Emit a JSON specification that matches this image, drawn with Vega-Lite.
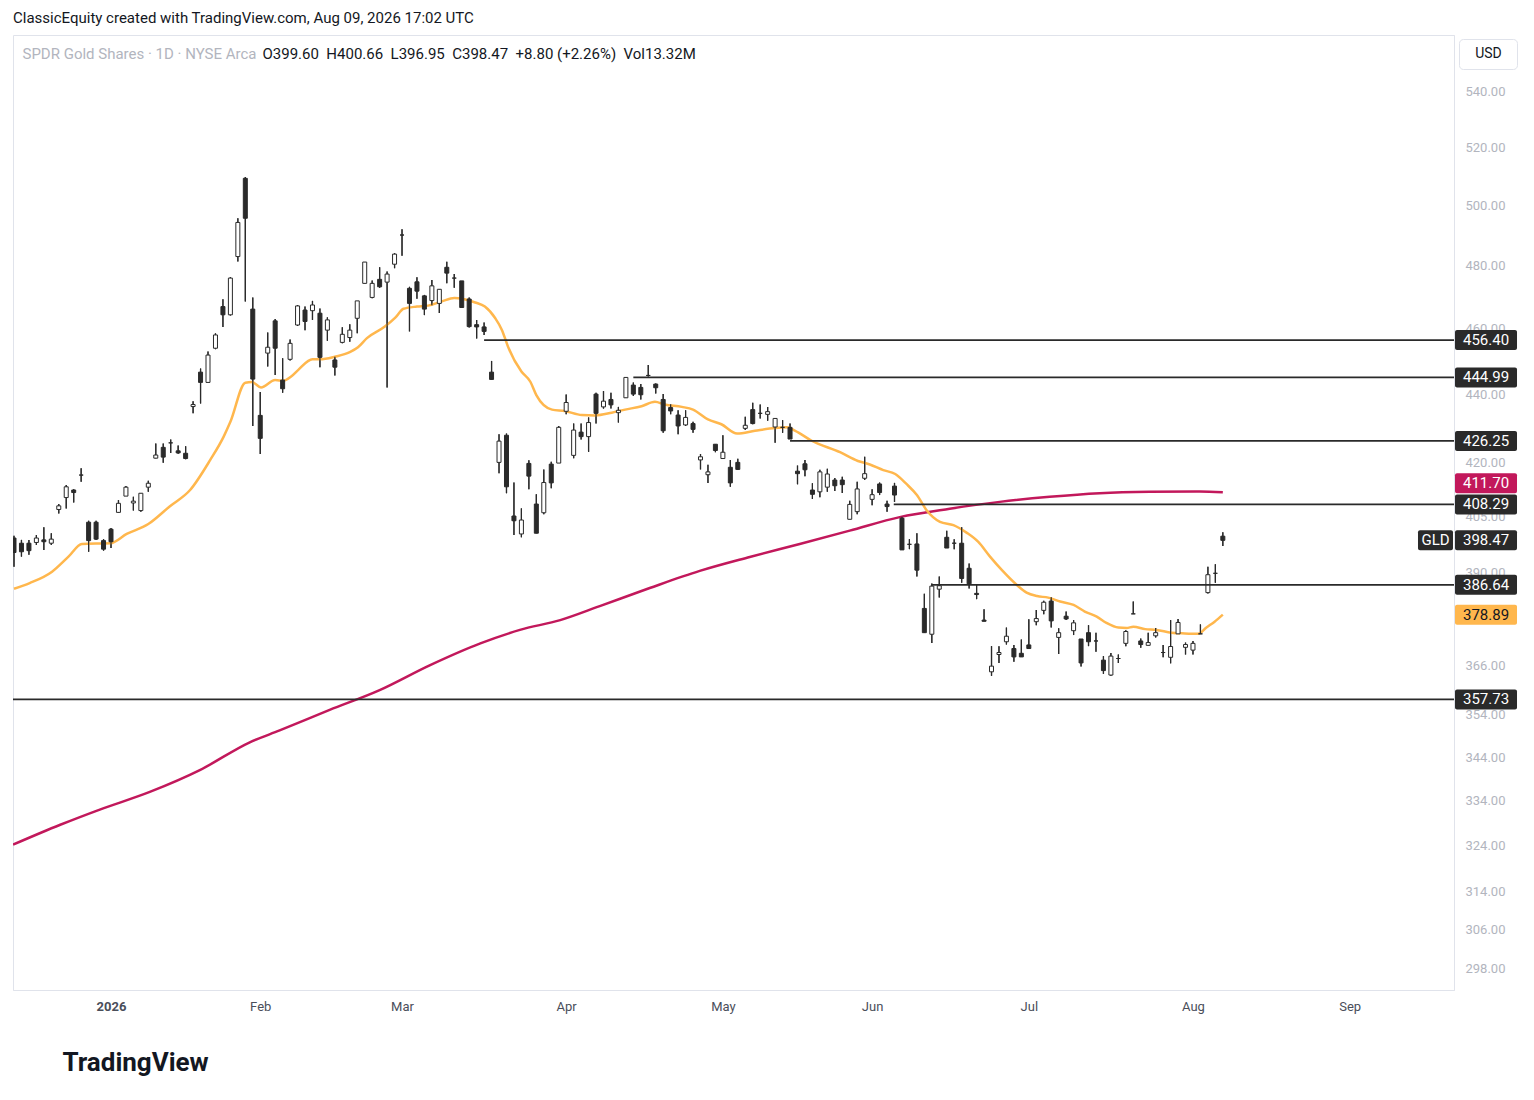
{
  "$schema": "https://vega.github.io/schema/vega-lite/v6.json",
  "width": 1441,
  "height": 955,
  "autosize": "none",
  "padding": {"left": 13, "top": 35, "right": 80, "bottom": 110},
  "background": "#ffffff",
  "title": {
    "text": "ClassicEquity created with TradingView.com, Aug 09, 2026 17:02 UTC",
    "anchor": "start",
    "frame": "group",
    "font": "Roboto",
    "fontSize": 15,
    "fontWeight": "normal",
    "color": "#131722",
    "offset": 9
  },
  "datasets": {
    "candles": [
      {"i":0,"o":399.1,"h":399.7,"l":391.4,"c":395.2},
      {"i":1,"o":397.7,"h":398.6,"l":394.1,"c":395.4},
      {"i":2,"o":397.7,"h":398.6,"l":394.6,"c":395.7},
      {"i":3,"o":397.9,"h":399.9,"l":397.2,"c":399.1},
      {"i":4,"o":398.6,"h":402.0,"l":395.9,"c":398.1},
      {"i":5,"o":397.7,"h":400.4,"l":397.2,"c":398.8},
      {"i":6,"o":406.9,"h":408.4,"l":405.8,"c":407.9},
      {"i":7,"o":410.2,"h":413.7,"l":407.2,"c":413.2},
      {"i":8,"o":412.3,"h":412.5,"l":408.8,"c":411.6},
      {"i":9,"o":416.5,"h":418.4,"l":414.6,"c":416.5},
      {"i":10,"o":403.4,"h":403.8,"l":395.4,"c":398.4},
      {"i":11,"o":403.4,"h":403.8,"l":398.6,"c":398.8},
      {"i":12,"o":398.4,"h":398.8,"l":395.7,"c":396.1},
      {"i":13,"o":401.5,"h":401.8,"l":396.4,"c":398.1},
      {"i":14,"o":406.1,"h":409.5,"l":406.1,"c":408.6},
      {"i":15,"o":410.6,"h":413.4,"l":410.6,"c":413.1},
      {"i":16,"o":408.7,"h":410.4,"l":406.6,"c":409.2},
      {"i":17,"o":406.6,"h":411.4,"l":406.3,"c":411.4},
      {"i":18,"o":413.1,"h":414.9,"l":411.8,"c":414.2},
      {"i":19,"o":421.3,"h":425.5,"l":421.3,"c":422.2},
      {"i":20,"o":424.4,"h":425.5,"l":420.0,"c":421.6},
      {"i":21,"o":425.7,"h":426.7,"l":422.8,"c":425.7},
      {"i":22,"o":423.4,"h":424.9,"l":422.6,"c":422.8},
      {"i":23,"o":422.7,"h":424.7,"l":421.0,"c":421.2},
      {"i":24,"o":436.3,"h":437.9,"l":434.3,"c":436.9},
      {"i":25,"o":446.6,"h":447.7,"l":437.2,"c":443.5},
      {"i":26,"o":443.5,"h":452.9,"l":443.5,"c":451.8},
      {"i":27,"o":453.9,"h":458.5,"l":453.6,"c":458.0},
      {"i":28,"o":466.9,"h":469.2,"l":460.5,"c":464.3},
      {"i":29,"o":464.3,"h":476.3,"l":464.1,"c":476.0},
      {"i":30,"o":483.0,"h":495.7,"l":481.4,"c":494.3},
      {"i":31,"o":509.3,"h":509.8,"l":468.5,"c":495.7},
      {"i":32,"o":466.1,"h":469.8,"l":430.6,"c":444.5},
      {"i":33,"o":433.7,"h":440.6,"l":422.5,"c":427.0},
      {"i":34,"o":452.4,"h":458.8,"l":448.3,"c":454.2},
      {"i":35,"o":462.4,"h":463.0,"l":445.7,"c":453.9},
      {"i":36,"o":444.2,"h":450.8,"l":440.4,"c":441.6},
      {"i":37,"o":450.5,"h":456.6,"l":450.1,"c":455.4},
      {"i":38,"o":461.1,"h":467.4,"l":460.8,"c":467.1},
      {"i":39,"o":465.8,"h":466.9,"l":459.5,"c":462.2},
      {"i":40,"o":465.6,"h":468.7,"l":462.7,"c":467.4},
      {"i":41,"o":464.8,"h":466.3,"l":448.1,"c":451.1},
      {"i":42,"o":459.5,"h":463.5,"l":456.2,"c":462.7},
      {"i":43,"o":450.3,"h":451.3,"l":445.6,"c":448.1},
      {"i":44,"o":455.7,"h":460.4,"l":455.4,"c":458.2},
      {"i":45,"o":457.2,"h":461.3,"l":455.9,"c":459.5},
      {"i":46,"o":463.2,"h":468.7,"l":458.5,"c":468.7},
      {"i":47,"o":474.3,"h":481.2,"l":474.3,"c":481.2},
      {"i":48,"o":469.8,"h":475.2,"l":469.5,"c":474.3},
      {"i":49,"o":475.6,"h":479.5,"l":472.9,"c":473.2},
      {"i":50,"o":474.7,"h":478.1,"l":442.0,"c":477.3},
      {"i":51,"o":480.5,"h":484.1,"l":479.2,"c":483.8},
      {"i":52,"o":490.1,"h":492.0,"l":483.3,"c":490.1},
      {"i":53,"o":472.7,"h":473.2,"l":459.1,"c":467.9},
      {"i":54,"o":474.8,"h":476.3,"l":469.4,"c":471.8},
      {"i":55,"o":470.3,"h":470.6,"l":464.2,"c":466.1},
      {"i":56,"o":468.8,"h":475.4,"l":467.3,"c":473.5},
      {"i":57,"o":467.9,"h":472.4,"l":464.9,"c":472.4},
      {"i":58,"o":479.5,"h":481.3,"l":474.3,"c":477.6},
      {"i":59,"o":476.0,"h":477.3,"l":472.9,"c":476.0},
      {"i":60,"o":475.1,"h":475.1,"l":466.6,"c":466.6},
      {"i":61,"o":469.3,"h":469.8,"l":460.3,"c":460.6},
      {"i":62,"o":461.2,"h":462.7,"l":456.9,"c":460.5},
      {"i":63,"o":460.5,"h":461.9,"l":458.0,"c":459.1},
      {"i":64,"o":446.6,"h":450.0,"l":444.4,"c":444.4},
      {"i":65,"o":420.1,"h":428.2,"l":417.0,"c":426.2},
      {"i":66,"o":427.9,"h":428.4,"l":411.4,"c":413.2},
      {"i":67,"o":405.1,"h":414.4,"l":399.9,"c":403.8},
      {"i":68,"o":400.2,"h":407.2,"l":399.3,"c":404.0},
      {"i":69,"o":419.8,"h":420.7,"l":412.5,"c":416.2},
      {"i":70,"o":408.4,"h":411.1,"l":400.4,"c":400.4},
      {"i":71,"o":406.0,"h":418.1,"l":405.6,"c":414.4},
      {"i":72,"o":419.6,"h":420.3,"l":412.8,"c":414.3},
      {"i":73,"o":419.9,"h":430.6,"l":419.9,"c":430.2},
      {"i":74,"o":434.9,"h":439.9,"l":434.0,"c":437.5},
      {"i":75,"o":422.1,"h":431.3,"l":421.3,"c":429.4},
      {"i":76,"o":428.8,"h":431.3,"l":426.7,"c":427.5},
      {"i":77,"o":427.5,"h":433.1,"l":423.1,"c":431.6},
      {"i":78,"o":440.0,"h":440.4,"l":431.3,"c":434.3},
      {"i":79,"o":436.2,"h":440.9,"l":435.7,"c":437.9},
      {"i":80,"o":438.4,"h":440.4,"l":435.7,"c":436.8},
      {"i":81,"o":434.5,"h":436.2,"l":431.6,"c":435.2},
      {"i":82,"o":438.9,"h":445.0,"l":438.9,"c":445.0},
      {"i":83,"o":442.7,"h":443.5,"l":439.4,"c":440.0},
      {"i":84,"o":442.0,"h":443.0,"l":438.4,"c":439.8},
      {"i":85,"o":445.6,"h":448.8,"l":445.3,"c":445.6},
      {"i":86,"o":443.0,"h":443.2,"l":440.2,"c":441.9},
      {"i":87,"o":438.4,"h":440.0,"l":428.6,"c":429.2},
      {"i":88,"o":436.0,"h":437.0,"l":434.0,"c":435.0},
      {"i":89,"o":433.8,"h":435.2,"l":428.2,"c":430.6},
      {"i":90,"o":430.9,"h":435.2,"l":430.6,"c":433.1},
      {"i":91,"o":431.3,"h":431.8,"l":428.6,"c":429.6},
      {"i":92,"o":420.8,"h":422.5,"l":418.1,"c":421.7},
      {"i":93,"o":416.6,"h":419.4,"l":414.3,"c":417.4},
      {"i":94,"o":425.3,"h":425.3,"l":423.0,"c":423.5},
      {"i":95,"o":421.2,"h":427.9,"l":421.2,"c":423.0},
      {"i":96,"o":418.7,"h":420.8,"l":413.2,"c":414.3},
      {"i":97,"o":420.1,"h":421.1,"l":417.9,"c":418.1},
      {"i":98,"o":429.9,"h":433.3,"l":429.4,"c":430.8},
      {"i":99,"o":435.4,"h":437.4,"l":431.1,"c":431.3},
      {"i":100,"o":434.3,"h":436.9,"l":432.8,"c":434.3},
      {"i":101,"o":434.0,"h":436.2,"l":432.1,"c":434.8},
      {"i":102,"o":430.3,"h":432.8,"l":425.7,"c":432.8},
      {"i":103,"o":430.2,"h":432.3,"l":428.6,"c":430.2},
      {"i":104,"o":430.2,"h":431.3,"l":426.8,"c":426.8},
      {"i":105,"o":417.6,"h":419.2,"l":413.9,"c":416.9},
      {"i":106,"o":419.7,"h":420.8,"l":416.2,"c":418.0},
      {"i":107,"o":412.3,"h":414.2,"l":409.8,"c":411.1},
      {"i":108,"o":411.8,"h":418.0,"l":410.3,"c":417.4},
      {"i":109,"o":413.1,"h":418.3,"l":411.8,"c":416.8},
      {"i":110,"o":415.1,"h":415.7,"l":412.0,"c":413.5},
      {"i":111,"o":415.1,"h":416.0,"l":411.5,"c":413.8},
      {"i":112,"o":404.2,"h":409.3,"l":404.2,"c":408.3},
      {"i":113,"o":406.3,"h":414.6,"l":405.6,"c":412.6},
      {"i":114,"o":415.6,"h":421.7,"l":415.1,"c":416.9},
      {"i":115,"o":409.7,"h":412.5,"l":408.1,"c":411.0},
      {"i":116,"o":414.0,"h":414.4,"l":410.9,"c":411.6},
      {"i":117,"o":408.4,"h":409.3,"l":406.3,"c":407.7},
      {"i":118,"o":413.4,"h":414.3,"l":409.0,"c":410.9},
      {"i":119,"o":404.5,"h":404.9,"l":395.9,"c":395.9},
      {"i":120,"o":397.4,"h":398.8,"l":396.1,"c":397.4},
      {"i":121,"o":397.5,"h":400.4,"l":388.8,"c":390.5},
      {"i":122,"o":380.5,"h":384.3,"l":374.3,"c":374.3},
      {"i":123,"o":373.9,"h":387.0,"l":371.7,"c":386.3},
      {"i":124,"o":385.5,"h":388.8,"l":383.3,"c":386.4},
      {"i":125,"o":399.3,"h":401.1,"l":396.4,"c":396.4},
      {"i":126,"o":397.7,"h":398.8,"l":396.1,"c":397.7},
      {"i":127,"o":397.7,"h":402.0,"l":387.2,"c":388.3},
      {"i":128,"o":391.0,"h":392.3,"l":385.7,"c":386.9},
      {"i":129,"o":384.4,"h":386.6,"l":382.9,"c":384.1},
      {"i":130,"o":377.5,"h":380.3,"l":377.2,"c":377.2},
      {"i":131,"o":364.5,"h":370.9,"l":363.5,"c":365.9},
      {"i":132,"o":368.8,"h":370.9,"l":366.7,"c":369.3},
      {"i":133,"o":372.0,"h":375.6,"l":371.3,"c":373.4},
      {"i":134,"o":370.3,"h":371.2,"l":367.0,"c":368.2},
      {"i":135,"o":369.1,"h":372.6,"l":368.2,"c":368.2},
      {"i":136,"o":371.2,"h":377.7,"l":370.3,"c":370.3},
      {"i":137,"o":377.1,"h":380.1,"l":376.2,"c":377.9},
      {"i":138,"o":380.0,"h":382.5,"l":379.0,"c":382.1},
      {"i":139,"o":382.4,"h":383.4,"l":375.6,"c":377.3},
      {"i":140,"o":373.1,"h":375.4,"l":368.9,"c":374.3},
      {"i":141,"o":378.5,"h":379.7,"l":377.5,"c":377.8},
      {"i":142,"o":374.8,"h":377.5,"l":373.7,"c":376.8},
      {"i":143,"o":372.7,"h":372.7,"l":365.8,"c":366.7},
      {"i":144,"o":374.3,"h":376.2,"l":370.9,"c":372.0},
      {"i":145,"o":372.2,"h":374.3,"l":369.5,"c":372.2},
      {"i":146,"o":367.4,"h":368.4,"l":364.0,"c":364.8},
      {"i":147,"o":363.7,"h":369.2,"l":363.5,"c":368.4},
      {"i":148,"o":367.8,"h":368.8,"l":366.7,"c":367.8},
      {"i":149,"o":371.6,"h":374.9,"l":370.9,"c":374.6},
      {"i":150,"o":379.1,"h":382.3,"l":379.1,"c":379.1},
      {"i":151,"o":372.2,"h":372.8,"l":370.5,"c":371.3},
      {"i":152,"o":371.1,"h":374.3,"l":371.1,"c":371.8},
      {"i":153,"o":373.5,"h":375.5,"l":373.1,"c":374.3},
      {"i":154,"o":369.3,"h":371.2,"l":368.1,"c":369.3},
      {"i":155,"o":368.1,"h":377.5,"l":366.6,"c":370.8},
      {"i":156,"o":374.0,"h":377.8,"l":374.0,"c":376.9},
      {"i":157,"o":370.6,"h":371.8,"l":368.8,"c":371.3},
      {"i":158,"o":369.9,"h":372.2,"l":368.8,"c":371.6},
      {"i":159,"o":374.0,"h":376.4,"l":374.0,"c":374.0},
      {"i":160,"o":384.6,"h":391.4,"l":384.4,"c":389.3},
      {"i":161,"o":389.67,"h":392.1,"l":387.2,"c":389.67},
      {"i":162,"o":399.6,"h":400.66,"l":396.95,"c":398.47}
    ],
    "sma20": [
      {"i":0,"v":385.6},{"i":2.1,"v":387.1},{"i":5.1,"v":390.1},{"i":7.3,"v":394.1},
      {"i":9.1,"v":397.5},{"i":12.9,"v":397.7},{"i":15.1,"v":400.2},{"i":18,"v":402.9},
      {"i":20.9,"v":407.8},{"i":23.6,"v":412.3},{"i":26.3,"v":420.8},{"i":28.1,"v":427.5},
      {"i":29,"v":431.8},{"i":31,"v":443.4},{"i":31.9,"v":443.6},{"i":33.1,"v":442.0},
      {"i":35,"v":444.2},{"i":36.1,"v":444.0},{"i":37.1,"v":445.2},{"i":38.1,"v":447.3},
      {"i":40,"v":450.5},{"i":41,"v":450.5},{"i":43,"v":451.3},{"i":45,"v":452.7},
      {"i":46.1,"v":454.2},{"i":47.3,"v":457.0},{"i":49.7,"v":460.6},{"i":51.1,"v":463.4},
      {"i":52.2,"v":466.2},{"i":54,"v":466.9},{"i":55.5,"v":467.2},{"i":57.3,"v":468.5},
      {"i":59,"v":469.6},{"i":60.2,"v":469.3},{"i":61.8,"v":468.2},{"i":63.1,"v":466.9},
      {"i":64.5,"v":463.2},{"i":65.4,"v":459.5},{"i":66.2,"v":454.4},{"i":68,"v":446.8},
      {"i":69.2,"v":443.7},{"i":70,"v":439.7},{"i":72.1,"v":435.4},{"i":73.8,"v":435.0},
      {"i":76.1,"v":433.8},{"i":77.9,"v":433.7},{"i":80.1,"v":434.5},{"i":81.9,"v":435.4},
      {"i":84.1,"v":436.4},{"i":85.9,"v":437.7},{"i":87.2,"v":436.9},{"i":89.5,"v":436.2},
      {"i":91,"v":435.4},{"i":93,"v":432.5},{"i":94.8,"v":431.1},{"i":96.9,"v":428.4},
      {"i":99.3,"v":429.2},{"i":102,"v":430.0},{"i":103.6,"v":430.2},{"i":104.7,"v":429.2},
      {"i":106.9,"v":426.3},{"i":110.7,"v":423.0},{"i":113.1,"v":420.5},{"i":114.7,"v":419.5},
      {"i":116.5,"v":417.9},{"i":118.1,"v":416.8},{"i":119.6,"v":414.0},{"i":121,"v":410.9},
      {"i":122.3,"v":406.7},{"i":124.1,"v":403.5},{"i":125.9,"v":402.6},{"i":127.7,"v":400.5},
      {"i":129.2,"v":398.1},{"i":130.8,"v":394.1},{"i":132.4,"v":390.5},{"i":134.4,"v":386.6},
      {"i":135.7,"v":384.6},{"i":137.1,"v":383.7},{"i":138.6,"v":383.3},{"i":140.2,"v":382.3},
      {"i":142,"v":381.4},{"i":143.5,"v":379.7},{"i":145.1,"v":378.4},{"i":146.4,"v":376.8},
      {"i":148,"v":375.6},{"i":149.1,"v":375.5},{"i":150,"v":375.8},{"i":151.6,"v":375.2},
      {"i":153.1,"v":375.0},{"i":155.1,"v":374.3},{"i":156.9,"v":374.1},{"i":158.7,"v":374.0},
      {"i":159.8,"v":375.6},{"i":160.9,"v":377.1},{"i":162,"v":378.89}
    ],
    "sma200": [
      {"i":-0.13,"v":324.2},{"i":6.2,"v":328.6},{"i":11.5,"v":332.0},{"i":18.2,"v":336.0},
      {"i":24.9,"v":341.0},{"i":31.6,"v":347.5},{"i":35.6,"v":350.3},{"i":42.3,"v":355.2},
      {"i":49,"v":360.0},{"i":55.7,"v":366.1},{"i":62.5,"v":371.6},{"i":67.8,"v":375.0},
      {"i":73.2,"v":377.5},{"i":78.5,"v":381.1},{"i":85.2,"v":385.8},{"i":91.9,"v":390.3},
      {"i":98.6,"v":394.0},{"i":105.3,"v":397.5},{"i":112,"v":401.1},{"i":118.7,"v":404.8},
      {"i":125.4,"v":407.1},{"i":132.1,"v":409.0},{"i":138.8,"v":410.4},{"i":145.5,"v":411.4},
      {"i":152.2,"v":411.8},{"i":158.9,"v":411.9},{"i":162,"v":411.7}
    ],
    "levels": [
      {"p":456.40,"from":63.0},
      {"p":444.99,"from":83.0},
      {"p":426.25,"from":104.0},
      {"p":408.29,"from":117.9},
      {"p":386.64,"from":123.0},
      {"p":357.73,"from":-0.134}
    ],
    "tags": [
      {"p":456.40,"label":"456.40","kind":"level"},
      {"p":444.99,"label":"444.99","kind":"level"},
      {"p":426.25,"label":"426.25","kind":"level"},
      {"p":411.70,"label":"411.70","kind":"sma200"},
      {"p":408.29,"label":"408.29","kind":"level"},
      {"p":398.47,"label":"398.47","kind":"last","sym":"GLD"},
      {"p":386.64,"label":"386.64","kind":"level"},
      {"p":378.89,"label":"378.89","kind":"sma20"},
      {"p":357.73,"label":"357.73","kind":"level"}
    ]
  },
  "resolve": {"axis": {"x": "independent"}},
  "layer": [
    {
      "data": {"name": "candles"},
      "mark": {"type": "rule", "color": "#2a2a2a", "strokeWidth": 1.2, "clip": true},
      "encoding": {
        "x": {
          "field": "i", "type": "quantitative",
          "scale": {"domain": [-0.134, 192.98], "nice": false, "zero": false, "padding": 0},
          "axis": {
            "values": [13, 33, 52, 74, 95, 115, 136, 158, 179],
            "labelExpr": "datum.value == 13 ? '2026' : datum.value == 33 ? 'Feb' : datum.value == 52 ? 'Mar' : datum.value == 74 ? 'Apr' : datum.value == 95 ? 'May' : datum.value == 115 ? 'Jun' : datum.value == 136 ? 'Jul' : datum.value == 158 ? 'Aug' : 'Sep'",
            "ticks": false,
            "grid": false,
            "domainColor": "#e0e3eb",
            "labelColor": "#4a4e5a",
            "labelFontSize": 13,
            "labelPadding": 10,
            "labelFlush": false,
            "labelOverlap": false,
            "labelFontWeight": {"condition": {"test": "datum.value == 13", "value": "bold"}, "value": "normal"},
            "title": "TradingView",
            "titleAnchor": "start",
            "titleAlign": "left",
            "titleBaseline": "middle",
            "titleX": 49,
            "titleY": 72,
            "titleFontSize": 26,
            "titleFontWeight": "bold",
            "titleColor": "#131722"
          }
        },
        "y": {
          "field": "l", "type": "quantitative", "title": null,
          "scale": {"type": "log", "domain": [293.78, 561.27], "nice": false, "zero": false},
          "axis": {
            "orient": "right",
            "values": [298, 306, 314, 324, 334, 344, 354, 366, 390, 405, 420, 440, 460, 480, 500, 520, 540],
            "format": ".2f",
            "ticks": false,
            "grid": false,
            "domainColor": "#e0e3eb",
            "labelColor": "#b2b5be",
            "labelFontSize": 13,
            "labelPadding": 11,
            "labelOverlap": false,
            "labelFlush": false
          }
        },
        "y2": {"field": "h"}
      }
    },
    {
      "data": {"name": "sma200"},
      "mark": {"type": "line", "color": "#c2185b", "strokeWidth": 2.5, "interpolate": "monotone", "clip": true},
      "encoding": {
        "x": {
          "field": "i", "type": "quantitative",
          "axis": {
            "orient": "top",
            "labels": false,
            "ticks": false,
            "domain": false,
            "grid": false,
            "offset": 0,
            "title": "SPDR Gold Shares \u00b7 1D \u00b7 NYSE Arca",
            "titleAnchor": "start",
            "titleAlign": "left",
            "titleBaseline": "middle",
            "titleX": 9,
            "titleY": 18,
            "titleFontSize": 15,
            "titleFontWeight": "normal",
            "titleColor": "#b2b5be"
          }
        },
        "y": {"field": "v", "type": "quantitative", "title": null}
      }
    },
    {
      "data": {"name": "sma20"},
      "mark": {"type": "line", "color": "#ffb74d", "strokeWidth": 2.5, "interpolate": "monotone", "clip": true},
      "encoding": {
        "x": {"field": "i", "type": "quantitative", "axis": null},
        "y": {"field": "v", "type": "quantitative", "title": null}
      }
    },
    {
      "data": {"name": "candles"},
      "mark": {"type": "rule", "color": "#2a2a2a", "strokeWidth": 1.2, "clip": true},
      "encoding": {
        "x": {"field": "i", "type": "quantitative", "axis": null},
        "y": {"field": "l", "type": "quantitative", "title": null},
        "y2": {"field": "h"}
      }
    },
    {
      "data": {"name": "candles"},
      "mark": {"type": "bar", "size": 4, "stroke": "#2a2a2a", "strokeWidth": 1, "clip": true},
      "encoding": {
        "x": {
          "field": "i", "type": "quantitative",
          "axis": {
            "orient": "top",
            "labels": false,
            "ticks": false,
            "domain": false,
            "grid": false,
            "offset": 0,
            "title": "O399.60\u00a0\u00a0H400.66\u00a0\u00a0L396.95\u00a0\u00a0C398.47\u00a0\u00a0+8.80 (+2.26%)\u00a0\u00a0Vol13.32M",
            "titleAnchor": "start",
            "titleAlign": "left",
            "titleBaseline": "middle",
            "titleX": 249,
            "titleY": 18,
            "titleFontSize": 15,
            "titleFontWeight": "normal",
            "titleColor": "#131722"
          }
        },
        "y": {"field": "o", "type": "quantitative", "title": null},
        "y2": {"field": "c"},
        "fill": {"condition": {"test": "datum.o < datum.c", "value": "#ffffff"}, "value": "#2a2a2a"}
      }
    },
    {
      "data": {"name": "levels"},
      "mark": {"type": "rule", "color": "#2a2a2a", "strokeWidth": 1.8},
      "encoding": {
        "x": {"field": "from", "type": "quantitative", "axis": null},
        "x2": {"datum": 192.98},
        "y": {"field": "p", "type": "quantitative", "title": null}
      }
    },
    {
      "data": {"name": "tags"},
      "transform": [{"filter": "datum.kind != 'sma200'"}],
      "layer": [
        {
          "mark": {"type": "tick", "orient": "horizontal", "size": 62, "thickness": 20, "cornerRadius": 2, "opacity": 1},
          "encoding": {
            "x": {"datum": 197.27, "type": "quantitative", "axis": null},
            "y": {"field": "p", "type": "quantitative", "title": null},
            "color": {
              "field": "kind", "type": "nominal", "legend": null,
              "scale": {"domain": ["level", "last", "sma200", "sma20"], "range": ["#2a2a2a", "#2a2a2a", "#c2185b", "#ffb74d"]}
            }
          }
        },
        {
          "mark": {"type": "text", "fontSize": 15, "baseline": "middle", "align": "center"},
          "encoding": {
            "x": {"datum": 197.27, "type": "quantitative", "axis": null},
            "y": {"field": "p", "type": "quantitative", "title": null},
            "text": {"field": "label"},
            "color": {"condition": {"test": "datum.kind == 'sma20'", "value": "#131722"}, "value": "#ffffff"}
          }
        }
      ]
    },
    {
      "data": {"name": "tags"},
      "transform": [{"filter": "datum.kind == 'sma200'"}],
      "layer": [
        {
          "mark": {"type": "tick", "orient": "horizontal", "size": 62, "thickness": 20, "cornerRadius": 2, "opacity": 1, "color": "#c2185b", "yOffset": -9},
          "encoding": {
            "x": {"datum": 197.27, "type": "quantitative", "axis": null},
            "y": {"field": "p", "type": "quantitative", "title": null}
          }
        },
        {
          "mark": {"type": "text", "fontSize": 15, "baseline": "middle", "align": "center", "color": "#ffffff", "yOffset": -9},
          "encoding": {
            "x": {"datum": 197.27, "type": "quantitative", "axis": null},
            "y": {"field": "p", "type": "quantitative", "title": null},
            "text": {"field": "label"}
          }
        }
      ]
    },
    {
      "data": {"name": "tags"},
      "transform": [{"filter": "datum.kind == 'last'"}],
      "layer": [
        {
          "mark": {"type": "tick", "orient": "horizontal", "size": 35, "thickness": 20, "cornerRadius": 2, "opacity": 1, "color": "#2a2a2a"},
          "encoding": {
            "x": {"datum": 190.5, "type": "quantitative", "axis": null},
            "y": {"field": "p", "type": "quantitative", "title": null}
          }
        },
        {
          "mark": {"type": "text", "fontSize": 15, "baseline": "middle", "align": "center", "color": "#ffffff"},
          "encoding": {
            "x": {"datum": 190.5, "type": "quantitative", "axis": null},
            "y": {"field": "p", "type": "quantitative", "title": null},
            "text": {"field": "sym"}
          }
        }
      ]
    },
    {
      "data": {"values": [{"unit": "USD"}]},
      "layer": [
        {
          "mark": {"type": "tick", "orient": "horizontal", "size": 58, "thickness": 30, "cornerRadius": 4, "opacity": 1, "fill": "#ffffff", "stroke": "#e0e3eb", "strokeWidth": 1},
          "encoding": {
            "x": {"datum": 197.6, "type": "quantitative", "axis": null},
            "y": {"datum": 553.9, "type": "quantitative", "title": null}
          }
        },
        {
          "mark": {"type": "text", "fontSize": 14, "baseline": "middle", "align": "center", "color": "#131722"},
          "encoding": {
            "x": {"datum": 197.6, "type": "quantitative", "axis": null},
            "y": {"datum": 553.9, "type": "quantitative", "title": null},
            "text": {"field": "unit"}
          }
        }
      ]
    }
  ],
  "config": {
    "font": "Roboto",
    "view": {"stroke": "#e0e3eb"},
    "axis": {"labelFont": "Roboto", "titleFont": "Roboto"}
  }
}
